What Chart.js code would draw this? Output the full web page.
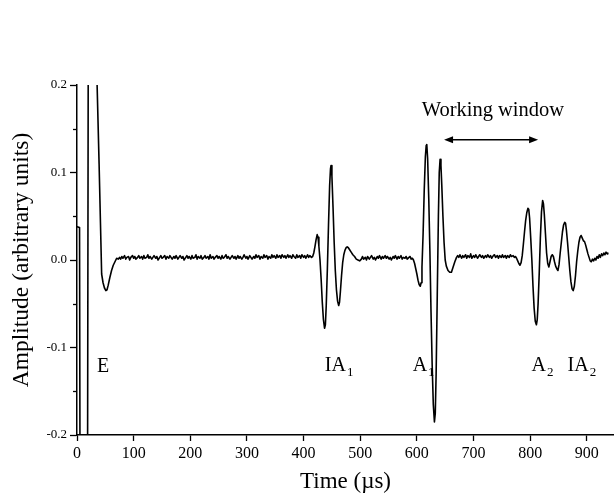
<!DOCTYPE html>
<html>
<head>
<meta charset="utf-8">
<script src="https://cdn.jsdelivr.net/npm/chart.js@4"></script>
<style>
  body { margin: 0; background: #fff; }
  #wave { display: block; }
</style>
</head>
<body>
<canvas id="wave" width="614" height="493"></canvas>
<script>
// signal, [time in us, amplitude]
const echoE = [[0,0.038],[4.5,0.037],[5.5,-0.3],[18.5,-0.3],[20,0.3],[33,0.3],[35.5,0.2],[39,0.11],[43.5,-0.016],[46,-0.026],[48.5,-0.032],[51,-0.035],[53,-0.034],[55,-0.029],[58,-0.02],[61,-0.012],[64,-0.006],[67,-0.002],[70,0.002],[73,0.001],[75,0.003]];

const baseline1 = [[77,0.001],[79,0.004],[81,0.002],[84,0.005],[86,0.001],[88,0.003],[91,0.004],[93,0.000],[95,0.003],[98,0.005],[100,0.002],[102,0.004],[104,0.001],[107,0.003],[109,0.005],[111,0.002],[114,0.004],[116,0.001],[118,0.005],[120,0.002],[123,0.003],[125,0.006],[127,0.002],[129,0.004],[132,0.001],[134,0.003],[136,0.005],[139,0.002],[141,0.004],[143,0.000],[146,0.003],[148,0.005],[150,0.002],[152,0.003],[155,0.005],[157,0.001],[159,0.004],[162,0.002],[164,0.005],[166,0.003],[168,0.001],[171,0.004],[173,0.002],[175,0.005],[178,0.001],[180,0.003],[182,0.005],[185,0.002],[187,0.004],[189,0.000],[192,0.003],[194,0.005],[196,0.002],[198,0.004],[201,0.001],[203,0.005],[205,0.002],[208,0.003],[210,0.006],[212,0.001],[214,0.004],[217,0.002],[219,0.005],[221,0.001],[224,0.003],[226,0.005],[228,0.002],[231,0.004],[233,0.001],[235,0.006],[237,0.002],[240,0.004],[242,0.001],[244,0.003],[247,0.005],[249,0.002],[251,0.004],[254,0.001],[256,0.005],[258,0.002],[260,0.003],[263,0.006],[265,0.002],[267,0.004],[270,0.001],[272,0.003],[274,0.005],[277,0.002],[279,0.004],[281,0.001],[284,0.005],[286,0.002],[288,0.004],[291,0.001],[293,0.003],[295,0.006],[298,0.002],[300,0.004],[302,0.001],[305,0.005],[307,0.003],[309,0.001],[312,0.004],[314,0.002],[316,0.006],[318,0.003],[321,0.005],[323,0.001],[325,0.004],[328,0.002],[330,0.006],[332,0.003],[335,0.005],[337,0.001],[339,0.004],[342,0.002],[344,0.006],[346,0.003],[348,0.005],[351,0.002],[353,0.006],[355,0.003],[358,0.005],[360,0.002],[362,0.006],[365,0.003],[367,0.005],[369,0.002],[372,0.006],[374,0.003],[376,0.005],[379,0.002],[381,0.006],[383,0.004],[386,0.002],[388,0.006],[390,0.003],[393,0.005],[395,0.002],[397,0.006],[400,0.003],[402,0.005],[404,0.002],[407,0.006],[409,0.003],[411,0.005],[414,0.003]];

const ia1 = [[416,0.004],[418,0.008],[420,0.015],[422,0.023],[424,0.029],[425.5,0.026],[427,0.016],[429,0.000],[431,-0.022],[433,-0.048],[435,-0.068],[437,-0.078],[438.5,-0.074],[440,-0.052],[442,-0.010],[444,0.040],[446,0.085],[447.5,0.104],[448.5,0.108],[450,0.096],[452,0.060],[454,0.020],[456,-0.012],[458,-0.034],[460,-0.047],[462,-0.052],[463.5,-0.048],[465,-0.036],[467,-0.018],[469,-0.003],[471,0.006],[473,0.011],[475,0.014],[477,0.015],[479,0.014],[481,0.012],[484,0.009],[487,0.006],[490,0.004],[493,0.001],[496,0.000],[499,-0.001],[502,0.001]];

const baseline2 = [[504,0.004],[506,0.001],[509,0.003],[511,0.000],[513,0.004],[516,0.001],[518,0.003],[520,0.005],[523,0.001],[525,0.003],[527,0.000],[530,0.004],[532,0.002],[534,0.005],[537,0.001],[539,0.004],[541,0.002],[544,0.005],[546,0.002],[548,0.004],[551,0.001],[553,0.003],[555,0.000],[558,0.004],[560,0.002],[562,0.005],[565,0.001],[567,0.004],[569,0.002],[572,0.005],[574,0.001],[576,0.003],[579,0.002],[581,0.004],[583,0.001],[586,0.003],[588,0.004],[590,0.001],[592,0.002]];

const a1 = [[594,0.000],[596,-0.004],[598,-0.010],[600,-0.016],[602,-0.023],[604,-0.028],[606,-0.030],[607.5,-0.026],[609,-0.008],[611,0.030],[613,0.080],[615,0.118],[616.5,0.131],[617.5,0.132],[619,0.116],[621,0.070],[623,0.010],[625,-0.060],[627,-0.120],[629,-0.165],[631,-0.185],[632.5,-0.175],[634,-0.130],[636,-0.040],[638,0.050],[639.5,0.100],[641,0.115],[642.5,0.108],[644,0.085],[646,0.050],[648,0.020],[650,0.000],[652,-0.007],[655,-0.012],[658,-0.014],[661,-0.014],[664,-0.008],[667,-0.002],[670,0.003],[672,0.005]];

const baseline3 = [[674,0.003],[676,0.006],[679,0.002],[681,0.005],[683,0.003],[686,0.006],[688,0.002],[690,0.005],[693,0.003],[695,0.007],[697,0.002],[700,0.005],[702,0.003],[704,0.006],[707,0.002],[709,0.004],[711,0.006],[714,0.003],[716,0.005],[718,0.002],[721,0.005],[723,0.003],[725,0.006],[728,0.003],[730,0.005],[732,0.002],[735,0.005],[737,0.006],[739,0.003],[742,0.005],[744,0.002],[746,0.005],[749,0.003],[751,0.006],[753,0.003],[756,0.005],[758,0.002],[760,0.005],[763,0.003],[765,0.006],[767,0.004],[770,0.005],[772,0.003],[774,0.004],[776,0.002]];

const a2ia2 = [[778,-0.001],[780,-0.004],[782,-0.006],[784,-0.003],[786,0.005],[788,0.018],[790,0.032],[792,0.045],[794,0.054],[796,0.059],[797.5,0.058],[799,0.048],[801,0.025],[803,0.000],[805,-0.030],[807,-0.055],[809,-0.070],[811,-0.074],[812.5,-0.068],[814,-0.050],[816,-0.015],[818,0.025],[820,0.055],[822,0.068],[823.5,0.064],[825,0.052],[827,0.030],[829,0.008],[831,-0.004],[833,-0.008],[835,-0.002],[837,0.004],[839,0.006],[841,0.004],[843,-0.002],[845,-0.007],[847,-0.010],[849,-0.012],[851,-0.005],[853,0.008],[855,0.020],[857,0.032],[859,0.040],[861,0.043],[862.5,0.042],[864,0.034],[866,0.020],[868,0.004],[870,-0.012],[872,-0.025],[874,-0.033],[876,-0.035],[878,-0.030],[880,-0.018],[882,-0.002],[884,0.010],[886,0.020],[888,0.026],[890,0.028],[892,0.025],[894,0.022],[896,0.021],[898,0.017],[900,0.012],[902,0.007],[904,0.003],[906,-0.001],[908,-0.002],[910,0.001],[912,-0.001],[914,0.002],[916,0.000],[918,0.004],[920,0.002],[922,0.006],[924,0.003],[926,0.007],[928,0.005],[930,0.008],[932,0.006],[934,0.009],[936,0.007],[937,0.008]];

// axes
const xTicks = [0, 100, 200, 300, 400, 500, 600, 700, 800, 900];
const yTicks = [-0.2, -0.1, 0, 0.1, 0.2];
const yTickLabels = ['-0.2', '-0.1', '0.0', '0.1', '0.2'];
const yMinorTicks = [-0.15, -0.05, 0.05, 0.15];

// peak labels (text, subscript, time, amplitude of baseline-left corner)
const peakText = ['E', 'IA', 'A', 'A', 'IA'];
const peakSub = ['', '1', '1', '2', '2'];
const peakTime = [35.5, 437.5, 592.5, 802.5, 866];
const peakAmp = [-0.128, -0.127, -0.127, -0.127, -0.127];

// working window arrow
const windowLabel = 'Working window';
const windowStart = 648;
const windowEnd = 814;
const windowAmp = 0.1375;
const windowLabelAt = [608.5, 0.1646];

const trace = [].concat(echoE, baseline1, ia1, baseline2, a1, baseline3, a2ia2)
    .map(p => ({x: p[0], y: p[1]}));

const serif = 'Liberation Serif';

const annotations = {
    id: 'annotations',
    afterDraw(chart) {
        const ctx = chart.ctx;
        const xs = chart.scales.x, ys = chart.scales.y;
        ctx.save();
        // minor ticks on y
        ctx.strokeStyle = '#000';
        ctx.lineWidth = 1.3;
        yMinorTicks.forEach(v => {
            const py = Math.round(ys.getPixelForValue(v)) + 0.5;
            ctx.beginPath();
            ctx.moveTo(xs.left - 4, py);
            ctx.lineTo(xs.left, py);
            ctx.stroke();
        });

        ctx.fillStyle = '#000';
        ctx.textBaseline = 'alphabetic';
        ctx.textAlign = 'left';
        peakText.forEach((t, i) => {
            const px = xs.getPixelForValue(peakTime[i]);
            const py = ys.getPixelForValue(peakAmp[i]);
            ctx.font = '20px "' + serif + '"';
            ctx.fillText(t, px, py);
            if (peakSub[i]) {
                const w = ctx.measureText(t).width;
                ctx.font = '13px "' + serif + '"';
                ctx.fillText(peakSub[i], px + w + 1, py + 5);
            }
        });

        ctx.font = '20.5px "' + serif + '"';
        ctx.fillText(windowLabel, xs.getPixelForValue(windowLabelAt[0]), ys.getPixelForValue(windowLabelAt[1]));

        // double headed arrow
        const x1 = xs.getPixelForValue(windowStart);
        const x2 = xs.getPixelForValue(windowEnd);
        const ay = ys.getPixelForValue(windowAmp);
        ctx.lineWidth = 1.5;
        ctx.beginPath();
        ctx.moveTo(x1 + 4, ay);
        ctx.lineTo(x2 - 4, ay);
        ctx.stroke();
        ctx.beginPath();
        ctx.moveTo(x1, ay); ctx.lineTo(x1 + 9, ay - 3.5); ctx.lineTo(x1 + 9, ay + 3.5); ctx.closePath();
        ctx.moveTo(x2, ay); ctx.lineTo(x2 - 9, ay - 3.5); ctx.lineTo(x2 - 9, ay + 3.5); ctx.closePath();
        ctx.fill();
        ctx.restore();
    }
};

const config = {
    type: 'line',
    data: {
        datasets: [{
            data: trace,
            borderColor: '#000',
            borderWidth: 1.6,
            borderJoinStyle: 'round',
            borderCapStyle: 'round',
            pointRadius: 0,
            tension: 0,
            fill: false
        }]
    },
    options: {
        responsive: false,
        animation: false,
        layout: {padding: {top: 85, right: 0, left: 0, bottom: 0}},
        plugins: {
            legend: {display: false},
            tooltip: {enabled: false}
        },
        scales: {
            x: {
                type: 'linear',
                min: 0,
                max: 948,
                afterBuildTicks: s => { s.ticks = xTicks.map(v => ({value: v})); },
                afterFit: s => { s.height = 58; },
                grid: {drawOnChartArea: false, tickLength: 6, color: '#000', tickWidth: 1.3},
                border: {color: '#000', width: 1.5},
                ticks: {color: '#000', autoSkip: false, maxRotation: 0, padding: 3,
                        font: {family: serif, size: 16}},
                title: {display: true, text: 'Time (µs)', color: '#000',
                        font: {family: serif, size: 23, lineHeight: 1}, padding: {top: 0, bottom: 0}}
            },
            y: {
                min: -0.2,
                max: 0.2,
                afterBuildTicks: s => { s.ticks = yTicks.map(v => ({value: v})); },
                afterFit: s => { s.width = 77; },
                grid: {drawOnChartArea: false, tickLength: 7, color: '#000', tickWidth: 1.3},
                border: {color: '#000', width: 1.5},
                ticks: {color: '#000', padding: 3, font: {family: serif, size: 13},
                        callback: (v, i) => yTickLabels[i]},
                title: {display: true, text: 'Amplitude (arbitrary units)', color: '#000',
                        font: {family: serif, size: 23.5}, padding: {top: 8, bottom: 0}}
            }
        }
    },
    plugins: [annotations]
};

const ctx = document.getElementById('wave');
const waveChart = new Chart(ctx, config);
</script>
</body>
</html>
